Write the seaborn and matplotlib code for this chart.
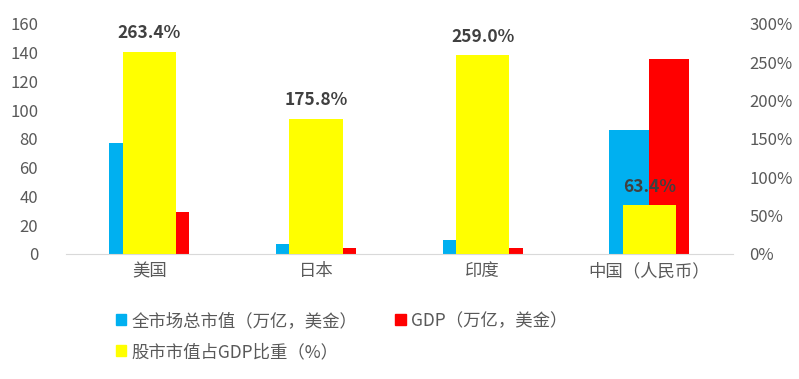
import pandas as pd
import matplotlib.pyplot as plt
import matplotlib.patches as mpatches
import seaborn as sns

# NOTE: Data
countries = ['美国', '日本', '印度', '中国（人民币）']
market_cap = [77.2, 7.0, 9.7, 86.3]      # 全市场总市值（万亿，美金）
gdp = [29.2, 4.1, 3.9, 135.6]            # GDP（万亿，美金）
ratio = [263.4, 175.8, 259.0, 63.4]      # 股市市值占GDP比重（%）

name_cap = '全市场总市值（万亿，美金）'
name_gdp = 'GDP（万亿，美金）'
name_ratio = '股市市值占GDP比重（%）'

sns.set_style('white')
plt.rcParams['font.family'] = ['Noto Sans CJK SC', 'DejaVu Sans']

df = pd.DataFrame({'国家': countries * 2,
                   '值': market_cap + gdp,
                   '系列': [name_cap] * 4 + [name_gdp] * 4})
df_ratio = pd.DataFrame({'国家': countries, '比重': ratio})

fig = plt.figure(figsize=(7.99, 3.79), dpi=100)
ax = fig.add_axes([0.0826, 0.33, 0.8344, 0.607])

sns.barplot(data=df, x='国家', y='值', hue='系列', order=countries,
            palette=['#00B0F0', '#FF0000'], width=0.48, ax=ax, legend=False,
            saturation=1, linewidth=0)

ax2 = ax.twinx()
sns.barplot(data=df_ratio, x='国家', y='比重', order=countries, color='#FFFF00',
            width=0.32, ax=ax2, saturation=1, linewidth=0)
ax2.bar_label(ax2.containers[0], fmt='%.1f%%', padding=7, fontsize=12.5,
              fontweight='bold', color='#404040')

ax.set_ylim(0, 160)
ax.set_yticks(range(0, 161, 20))
ax2.set_ylim(0, 300)
ax2.set_yticks(range(0, 301, 50))
ax2.set_yticklabels([f'{v}%' for v in range(0, 301, 50)])
ax.set_xlim(-0.5, 3.5)
ax2.set_xlim(-0.5, 3.5)

for a in (ax, ax2):
    a.set_xlabel('')
    a.set_ylabel('')
    for s in ['top', 'left', 'right']:
        a.spines[s].set_visible(False)
    a.spines['bottom'].set_color('#D9D9D9')
    a.grid(False)
ax2.spines['bottom'].set_visible(False)

ax.tick_params(axis='y', length=0, pad=20, labelsize=12, labelcolor='#595959')
ax.tick_params(axis='x', length=0, pad=6, labelsize=12.5, labelcolor='#595959')
ax2.tick_params(axis='y', length=0, pad=12, labelsize=12, labelcolor='#595959')

handles = [mpatches.Patch(color='#00B0F0', label=name_cap),
           mpatches.Patch(color='#FFFF00', label=name_ratio),
           mpatches.Patch(color='#FF0000', label=name_gdp)]
fig.legend(handles=handles, ncol=2, loc='upper left', bbox_to_anchor=(0.134, 0.2),
           frameon=False, fontsize=12.5, labelcolor='#595959',
           handlelength=0.6, handleheight=0.6, handletextpad=0.3,
           columnspacing=2.2, labelspacing=0.75, borderpad=0)

plt.savefig('out.png', dpi=100)
